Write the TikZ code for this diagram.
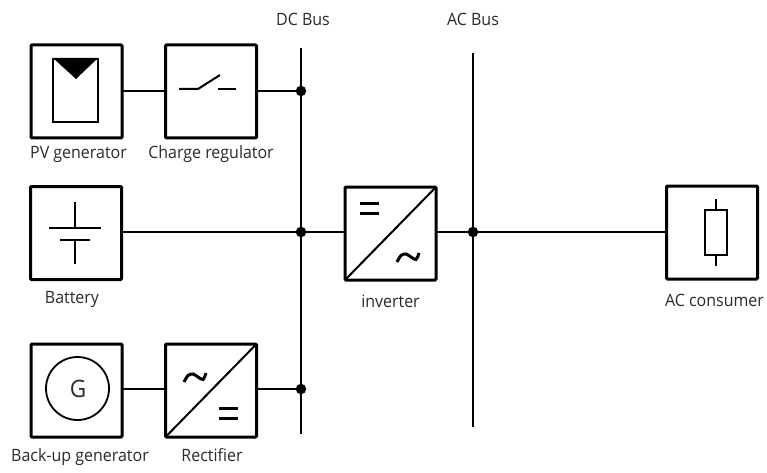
\documentclass[tikz,border=0pt]{standalone}
\usepackage{fontspec}
\setmainfont[FakeStretch=0.94]{Open Sans}
\definecolor{lbl}{HTML}{2A2A2A}
\tikzset{
  unitbox/.style={draw=black,line width=3pt,rounded corners=1pt,minimum width=91pt,minimum height=93pt,inner sep=0pt,outer sep=0pt},
  wire/.style={line width=2pt,black},
  thin sym/.style={line width=1.8pt,black},
  heavy sym/.style={line width=3pt,black},
  lab/.style={text=lbl,font=\fontsize{17}{19}\selectfont,inner sep=0pt,anchor=base},
  junction/.style={circle,fill=black,inner sep=0pt,minimum size=10.5pt}
}
\begin{document}
\begin{tikzpicture}[x=1pt,y=-1pt]
\useasboundingbox (0,0) rectangle (767,473);
% boxes
\node[unitbox] (pv) at (76.5,91.5) {};
\node[unitbox] (cr) at (211,91.5) {};
\node[unitbox] (bat) at (76,233) {};
\node[unitbox] (gen) at (76.5,390.5) {};
\node[unitbox] (rec) at (211,390.5) {};
\node[unitbox] (inv) at (390.5,233.5) {};
\node[unitbox] (ac) at (712,232.5) {};
% buses
\coordinate (dctop) at (301,48);
\coordinate (dcbot) at (301,434);
\coordinate (actop) at (473,53);
\coordinate (acbot) at (473,427);
\draw[wire] (dctop) -- (dcbot);
\draw[wire] (actop) -- (acbot);
\node[junction] (j1) at (301,91) {};
\node[junction] (j2) at (301,232) {};
\node[junction] (j3) at (301,389) {};
\node[junction] (j4) at (473,232) {};
% connectors
\draw[wire] (pv.east |- j1) -- (cr.west |- j1);
\draw[wire] (cr.east |- j1) -- (j1);
\draw[wire] (bat.east |- j2) -- (j2);
\draw[wire] (j2) -- (inv.west |- j2);
\draw[wire] (inv.east |- j4) -- (j4);
\draw[wire] (j4) -- (ac.west |- j4);
\draw[wire] (gen.east |- j3) -- (rec.west |- j3);
\draw[wire] (rec.east |- j3) -- (j3);
% PV symbol
\draw[thin sym] (53,59) rectangle (98,122);
\fill[black] (53,58) -- (98,58) -- (76,79) -- cycle;
% switch
\draw[wire] (179,89) -- (198,89) -- (220,75);
\draw[wire] (218,89) -- (236,89);
% battery
\draw[wire] (75,202) -- (75,228);
\draw[wire] (49,228) -- (101,228);
\draw[wire] (60,240) -- (90,240);
\draw[wire] (75,240) -- (75,264);
% generator
\draw[thin sym] (77.5,388.5) circle (31.5);
\node[font=\fontsize{24}{26}\selectfont,text=lbl,inner sep=0pt] (g) at (78,389) {G};
% rectifier
\draw[wire] (rec.south west) -- (rec.north east);
\draw[heavy sym] plot[smooth] coordinates {(184,382) (188,375.5) (193,374) (198,377) (203,379.5) (206,373)};
\draw[heavy sym] (219,408) -- (238,408) (219,418) -- (238,418);
% inverter
\draw[wire] (inv.south west) -- (inv.north east);
\draw[heavy sym] (360,203) -- (379,203) (360,213) -- (379,213);
\draw[heavy sym] plot[smooth] coordinates {(397,262) (401,255.5) (406,254) (411,257) (416,259.5) (419,253)};
% resistor
\draw[thin sym] (705,210) rectangle (727,255);
\draw[thin sym] (716,199) -- (716,210);
\draw[thin sym] (716,255) -- (716,266);
% labels
\node[lab] (l1) at (78.5,159) {PV generator};
\node[lab] (l2) at (211,159) {Charge regulator};
\node[lab] (l3) at (72,303) {Battery};
\node[lab] (l4) at (80,461) {Back-up generator};
\node[lab] (l5) at (212,461) {Rectifier};
\node[lab] (l6) at (390.5,307) {inverter};
\node[lab] (l7) at (714.5,306) {AC consumer};
\node[lab] (l8) at (303,26) {DC Bus};
\node[lab] (l9) at (473,26) {AC Bus};
\end{tikzpicture}
\end{document}
